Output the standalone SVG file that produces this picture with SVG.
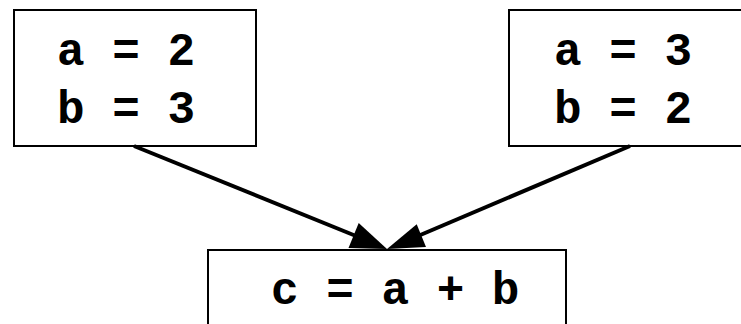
<svg xmlns="http://www.w3.org/2000/svg" width="741" height="324" viewBox="0 0 741 324">
<style>
.box{fill:#fff;stroke:#000;stroke-width:2}
.t{font-family:"Liberation Mono","Courier New",monospace;font-weight:bold;font-size:46px;fill:#000}
.edge{stroke:#000;stroke-width:4;fill:none}
</style>
<rect width="741" height="324" fill="#fff"/>
<g id="n1">
<rect class="box" x="14" y="10" width="242" height="136"/>
<text class="t" x="57" y="65">a = 2</text>
<text class="t" x="57" y="123">b = 3</text>
</g>
<g id="n2">
<rect class="box" x="509" y="10" width="240" height="136"/>
<text class="t" x="554" y="65">a = 3</text>
<text class="t" x="554" y="123">b = 2</text>
</g>
<g id="n3">
<rect class="box" x="208" y="250" width="358" height="100"/>
<text class="t" x="271" y="304">c = a + b</text>
</g>
<g id="edges">
<line class="edge" x1="134" y1="146" x2="356" y2="236"/>
<polygon points="387,249 348.5,247.9 358.7,222.9"/>
<line class="edge" x1="630" y1="146" x2="418" y2="236"/>
<polygon points="387,249 416.7,224.3 426,247"/>
</g>
</svg>
